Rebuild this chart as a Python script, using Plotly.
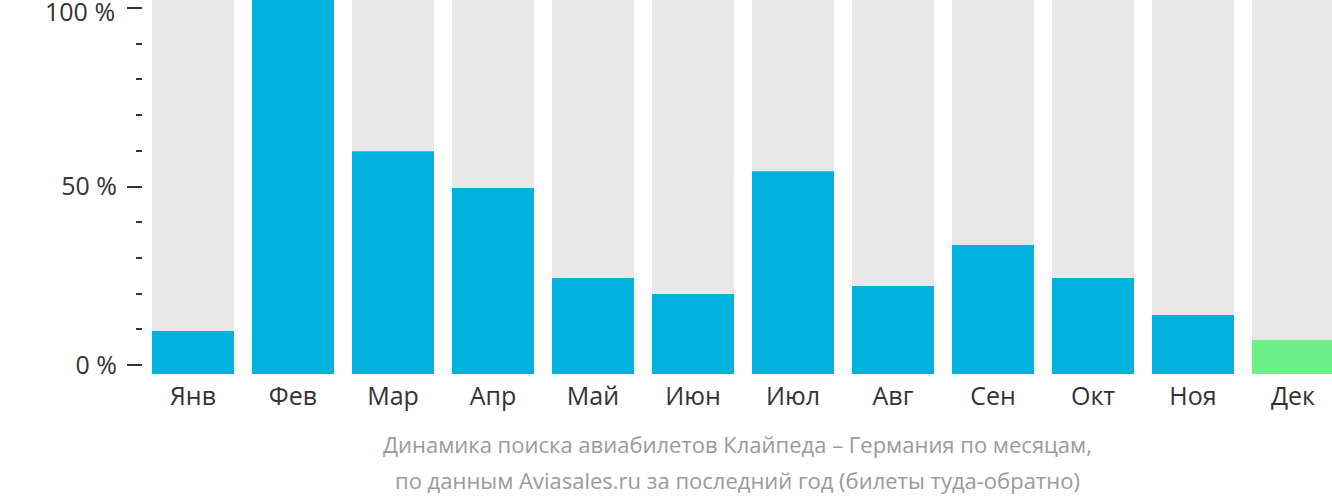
import plotly.graph_objects as go

months = ["Янв", "Фев", "Мар", "Апр", "Май", "Июн", "Июл", "Авг", "Сен", "Окт", "Ноя", "Дек"]
values = [9.5, 102.24, 59.9, 49.6, 24.4, 19.9, 54.3, 22.1, 33.6, 24.4, 14.0, 7.0]
bar_colors = ["#00b1dd"] * 11 + ["#6cf089"]
y_ticks = [0, 50, 100]
y_tick_text = ["0 %", "50 %", "100 %"]

Y_MIN, Y_MAX = -2.52, 102.24
x = list(range(len(months)))

fig = go.Figure()
fig.add_trace(go.Bar(
    x=x, y=[Y_MAX - Y_MIN] * len(months), base=Y_MIN,
    marker=dict(color="#e8e8e8", line=dict(width=0)),
    width=0.82, hoverinfo="skip", showlegend=False,
))
fig.add_trace(go.Bar(
    x=x, y=[v - Y_MIN for v in values], base=Y_MIN,
    marker=dict(color=bar_colors, line=dict(width=0)),
    width=0.82, showlegend=False,
))

# top tick label drawn as annotation so it can sit slightly lower (not cut at the edge)
tick_text_shown = y_tick_text[:-1] + [""]

fig.update_layout(
    width=1332, height=502,
    margin=dict(l=143, r=0, t=0, b=128),
    barmode="overlay",
    plot_bgcolor="white", paper_bgcolor="white",
    font=dict(family="Open Sans", size=25, color="#333333"),
    xaxis=dict(
        range=[-0.5, 11.39], tickmode="array", tickvals=x, ticktext=months,
        showgrid=False, zeroline=False, showline=False, ticks="",
        tickfont=dict(size=25, color="#333333"), ticklabelstandoff=5,
        automargin=False,
    ),
    yaxis=dict(
        range=[Y_MIN, Y_MAX], tickmode="array", tickvals=y_ticks, ticktext=tick_text_shown,
        showgrid=False, zeroline=False, showline=False,
        ticks="outside", ticklen=15, tickwidth=2, tickcolor="#333333",
        minor=dict(tickmode="linear", tick0=0, dtick=10, ticks="outside", ticklen=6,
                   tickwidth=2, tickcolor="#333333", showgrid=False),
        tickfont=dict(size=25, color="#333333"),
        ticklabelstandoff=5, ticklabeloverflow="allow", automargin=False,
    ),
    annotations=[
        dict(text=y_tick_text[-1], xref="paper", yref="y", x=0, y=y_ticks[-1],
             xshift=-26, yshift=-3, xanchor="right", yanchor="middle", showarrow=False,
             font=dict(size=25, color="#333333")),
        dict(text="Динамика поиска авиабилетов Клайпеда – Германия по месяцам,",
             xref="paper", yref="paper", x=0.5, y=-(444 - 374) / 374,
             xanchor="center", yanchor="middle", showarrow=False,
             font=dict(size=22, color="#9a9a9a")),
        dict(text="по данным Aviasales.ru за последний год (билеты туда-обратно)",
             xref="paper", yref="paper", x=0.5, y=-(480 - 374) / 374,
             xanchor="center", yanchor="middle", showarrow=False,
             font=dict(size=22, color="#9a9a9a")),
    ],
)

fig.write_html("out.html")
